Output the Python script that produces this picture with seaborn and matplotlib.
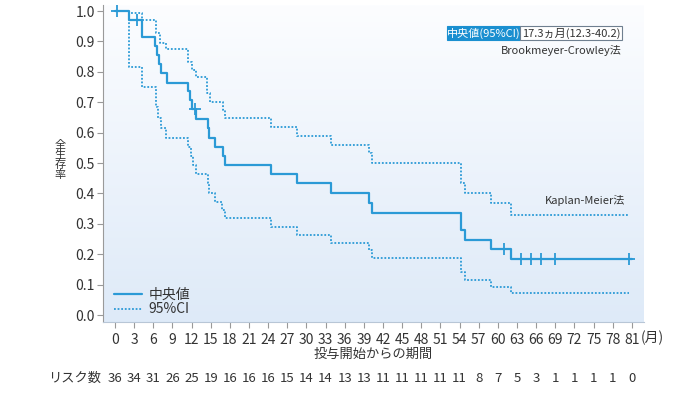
import numpy as np
import pandas as pd
import matplotlib
matplotlib.use("Agg")
import matplotlib.pyplot as plt
import matplotlib.transforms as mtransforms
from matplotlib.patches import Rectangle
from matplotlib.lines import Line2D
import seaborn as sns

# Kaplan-Meier estimate (step starts)
med_t = [0, 2.2, 4.3, 6.3, 6.6, 6.9, 7.2, 8.1, 11.4, 11.7, 12.1, 12.7, 14.5, 14.8, 15.6,
         17.0, 17.3, 24.5, 28.6, 33.8, 39.8, 40.2, 54.3, 54.8, 58.9, 62.0, 81.0]
med_s = [1.0, 0.972, 0.914, 0.885, 0.856, 0.827, 0.797, 0.765, 0.737, 0.707, 0.677, 0.645, 0.614, 0.584, 0.554,
         0.523, 0.493, 0.464, 0.433, 0.400, 0.369, 0.337, 0.280, 0.247, 0.216, 0.183, 0.183]

# upper 95% CI
up_t = [0, 2.2, 4.2, 6.4, 7.1, 8.0, 11.5, 12.1, 12.7, 14.4, 14.9, 17.0, 17.3, 24.5, 28.6,
        33.8, 39.8, 40.2, 54.3, 54.8, 58.9, 62.0, 80.5]
up_s = [1.0, 0.993, 0.97, 0.927, 0.896, 0.874, 0.833, 0.806, 0.782, 0.73, 0.70, 0.675, 0.647, 0.62, 0.59,
        0.561, 0.532, 0.499, 0.433, 0.40, 0.367, 0.329, 0.329]

# lower 95% CI
lo_t = [0, 2.2, 4.3, 6.5, 6.8, 7.2, 8.0, 11.5, 11.9, 12.2, 12.7, 14.5, 14.8, 15.6, 16.8, 17.2,
        24.5, 28.6, 33.8, 39.8, 40.2, 54.3, 54.8, 58.9, 62.0, 80.5]
lo_s = [1.0, 0.815, 0.75, 0.685, 0.647, 0.614, 0.584, 0.554, 0.523, 0.494, 0.464, 0.433, 0.40, 0.373, 0.345, 0.318,
        0.29, 0.263, 0.236, 0.214, 0.186, 0.142, 0.115, 0.093, 0.071, 0.071]

# censored observations
cens_t = [0.3, 3.4, 12.5, 61.0, 63.6, 65.2, 66.8, 68.9, 80.5]

x_ticks = list(range(0, 82, 3))
at_risk = [36, 34, 31, 26, 25, 19, 16, 16, 16, 15, 14, 14, 13, 13, 11,
           11, 11, 11, 11, 8, 7, 5, 3, 1, 1, 1, 1, 0]

sns.set_style("white")
plt.rcParams["font.family"] = ["Noto Sans CJK JP", "DejaVu Sans"]

BLUE = "#2b9ad6"
TXT = "#333333"

fig = plt.figure(figsize=(7.0, 3.96), dpi=100)
ax = fig.add_axes([103 / 700, 1 - 322 / 396, (644 - 103) / 700, (322 - 5) / 396])

# background gradient
grad = np.linspace(0, 1, 256).reshape(-1, 1)
cmap = matplotlib.colors.LinearSegmentedColormap.from_list("bg", ["#fcfdff", "#deeaf8"])
ax.imshow(grad, extent=[0, 1, 0, 1], transform=ax.transAxes, cmap=cmap,
          aspect="auto", zorder=0, origin="upper")

med = pd.DataFrame({"t": med_t, "s": med_s})
up = pd.DataFrame({"t": up_t, "s": up_s})
lo = pd.DataFrame({"t": lo_t, "s": lo_s})

dot = (0, (1, 1))
sns.lineplot(data=up, x="t", y="s", ax=ax, color=BLUE, lw=1.3, linestyle=dot,
             drawstyle="steps-post", estimator=None, zorder=2)
sns.lineplot(data=lo, x="t", y="s", ax=ax, color=BLUE, lw=1.3, linestyle=dot,
             drawstyle="steps-post", estimator=None, zorder=2)
sns.lineplot(data=med, x="t", y="s", ax=ax, color=BLUE, lw=1.6,
             drawstyle="steps-post", estimator=None, zorder=3)

idx = np.searchsorted(med_t, cens_t, side="right") - 1
cens_s = [med_s[i] for i in idx]
sns.scatterplot(x=cens_t, y=cens_s, ax=ax, marker="+", s=70, color=BLUE,
                linewidth=1.3, zorder=4)

ax.set_xlim(-1.88, 82.9)
ax.set_ylim(-0.023, 1.02)
ax.set_xticks(x_ticks)
ax.set_xticklabels([str(v) for v in x_ticks])
ax.set_yticks(np.arange(0, 1.01, 0.1))
ax.set_yticklabels([f"{v:.1f}" for v in np.arange(0, 1.01, 0.1)])
ax.tick_params(axis="both", which="both", direction="out", length=4, width=0.8,
               colors="#999999", labelcolor=TXT, labelsize=10, pad=2,
               left=True, bottom=True)
ax.tick_params(axis="x", pad=4)
for sp in ["top", "right"]:
    ax.spines[sp].set_visible(False)
ax.spines["left"].set_color("#9a9a9a")
ax.spines["bottom"].set_color("#b8c6d6")
ax.set_xlabel("")
ax.set_ylabel("")

# legend
handles = [Line2D([], [], color=BLUE, lw=1.6),
           Line2D([], [], color=BLUE, lw=1.3, linestyle=dot)]
ax.legend(handles, ["中央値", "95%CI"], loc="lower left", frameon=False,
          fontsize=10, handlelength=2.0, handletextpad=0.5, labelspacing=0.05,
          borderaxespad=0.0, bbox_to_anchor=(0.01, 0.0), labelcolor=TXT)

# x-axis unit and titles
blend = mtransforms.blended_transform_factory(ax.transData, fig.transFigure)
fig.text(641 / 700, 1 - 338 / 396, "(月)", ha="left", va="center", fontsize=10, color=TXT)
fig.text(373 / 700, 1 - 354 / 396, "投与開始からの期間", ha="center", va="center",
         fontsize=9.5, color=TXT)
fig.text(60 / 700, 1 - 160 / 396, "全\n生\n存\n率", ha="center", va="center",
         fontsize=8, color=TXT, linespacing=0.95)

# number at risk
fig.text(48 / 700, 1 - 378 / 396, "リスク数", ha="left", va="center", fontsize=9.5, color=TXT)
for xv, n in zip(x_ticks, at_risk):
    ax.text(xv, 1 - 378 / 396, str(n), transform=blend, ha="center", va="center",
            fontsize=9.5, color=TXT)

# median box
fig.patches.append(Rectangle((447 / 700, 1 - 40 / 396), 73 / 700, 14 / 396,
                             transform=fig.transFigure, facecolor="#1a8fd0",
                             edgecolor="#1a8fd0", lw=0.8))
fig.patches.append(Rectangle((520 / 700, 1 - 40 / 396), 102 / 700, 14 / 396,
                             transform=fig.transFigure, facecolor="white",
                             edgecolor="#6f7f90", lw=0.8))
fig.text(483.5 / 700, 1 - 33 / 396, "中央値(95%CI)", ha="center", va="center",
         fontsize=8, color="white")
fig.text(571 / 700, 1 - 33 / 396, "17.3ヵ月(12.3-40.2)", ha="center", va="center",
         fontsize=8, color=TXT)
fig.text(622 / 700, 1 - 50 / 396, "Brookmeyer-Crowley法", ha="right", va="center",
         fontsize=8, color=TXT)
fig.text(625 / 700, 1 - 200 / 396, "Kaplan-Meier法", ha="right", va="center",
         fontsize=8, color=TXT)

fig.savefig("out.png", dpi=100)
plt.close(fig)
